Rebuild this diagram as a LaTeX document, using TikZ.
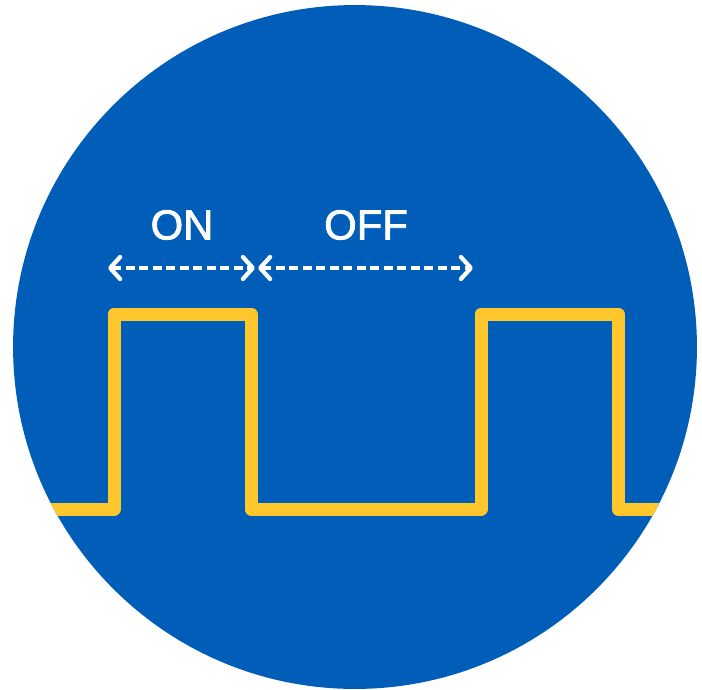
\documentclass[tikz,border=0pt]{standalone}
\usepackage{fontspec}
\setmainfont{Liberation Sans}
\newfontfamily\tagfont{Liberation Sans}[UprightFeatures={FakeBold=2}]
\usepackage{xcolor}
\usetikzlibrary{arrows.meta, positioning}

\definecolor{pwmblue}{HTML}{005EB8}
\definecolor{pwmyellow}{HTML}{FFC72C}

\begin{document}
\begin{tikzpicture}[x=0.02cm, y=-0.02cm,
        wave/.style={draw=pwmyellow, line width=0.26cm, line join=round, line cap=round},
        period/.style={draw=white, line width=0.085cm, dash pattern=on 0.18cm off 0.09cm,
            {Straight Barb[length=0.2cm, width=0.44cm, line cap=round, line join=round]}-{Straight Barb[length=0.2cm, width=0.44cm, line cap=round, line join=round]}},
        tag/.style={text=white, inner sep=0pt, font=\tagfont\fontsize{23.8}{28}\selectfont}]
        \useasboundingbox (0,0) rectangle (702,689);
        \fill[pwmblue] (355,347) circle (6.84cm);

        % signal corners
        \coordinate (r1) at (114,314);
        \coordinate (f1) at (251,314);
        \coordinate (r2) at (481,314);
        \coordinate (f2) at (618,314);

        \begin{scope}
            \clip (355,347) circle (6.84cm);
            \draw[wave] (0,509) -- (r1 |- 0,509) -- (r1) -- (f1) -- (f1 |- 0,509)
                -- (r2 |- 0,509) -- (r2) -- (f2) -- (f2 |- 0,509) -- (702,509);
        \end{scope}

        % spans
        \coordinate (onL)  at (108,268);
        \coordinate (onR)  at (255,268);
        \coordinate (offL) at (258,268);
        \coordinate (offR) at (473,268);
        \draw[period] (onL) -- (onR);
        \draw[period] (offL) -- (offR);

        \node[tag] (on)  at (182,225) {ON};
        \node[tag] (off) at (366,225) {OFF};
\end{tikzpicture}
\end{document}
